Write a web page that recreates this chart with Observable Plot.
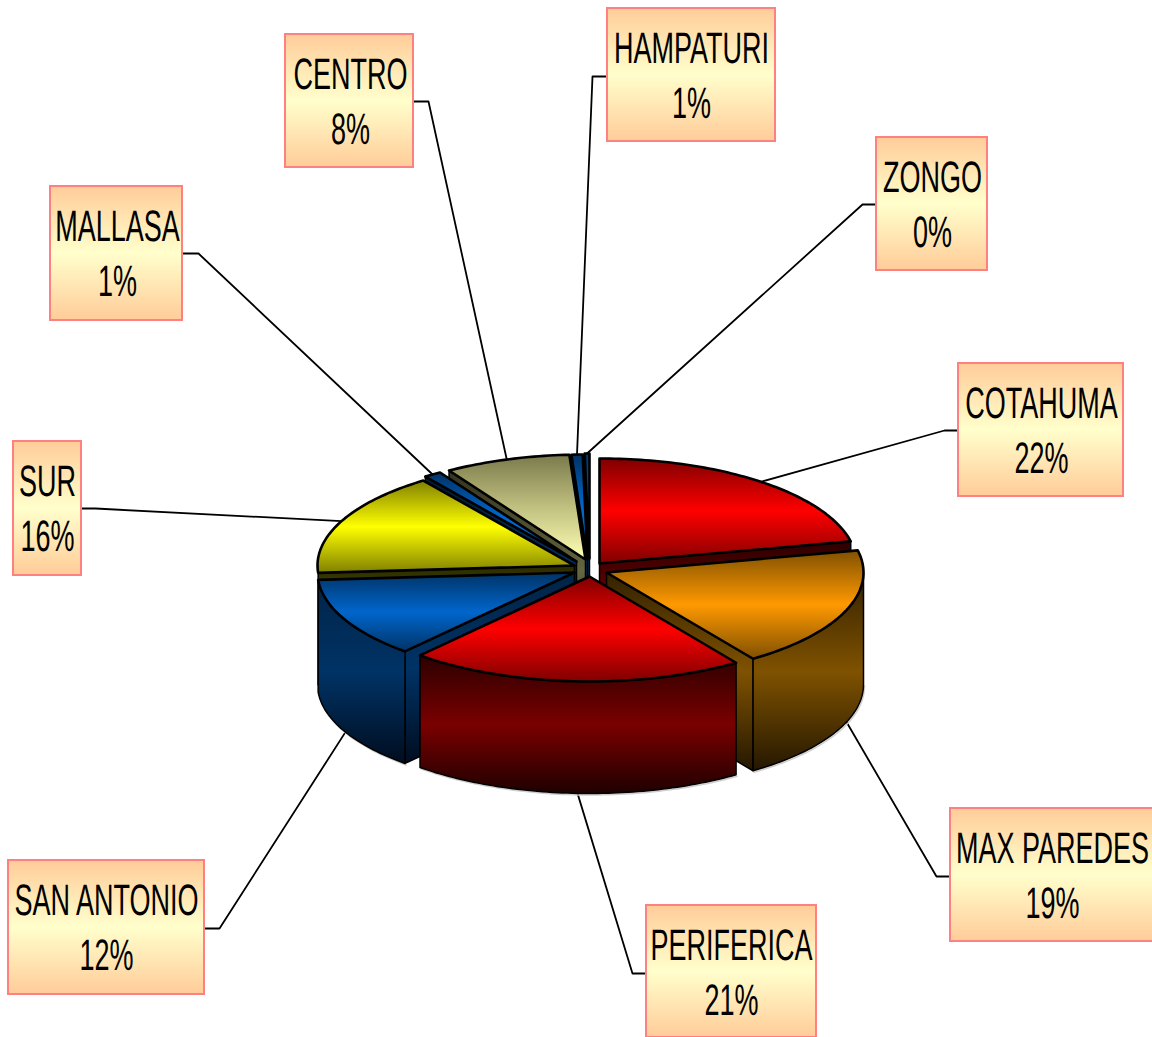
<!DOCTYPE html>
<html>
<head>
<meta charset="utf-8">
<style>html,body{margin:0;padding:0;background:#fff;overflow:hidden}</style>
<script src="https://cdn.jsdelivr.net/npm/d3@7"></script>
<script src="https://cdn.jsdelivr.net/npm/@observablehq/plot@0.6"></script>
</head>
<body>
<script>
// ---- chart data
const districts = ["COTAHUMA","MAX PAREDES","PERIFERICA","SAN ANTONIO","SUR","MALLASA","CENTRO","HAMPATURI","ZONGO"];
const shares    = [21.6, 18.7, 21.1, 12.4, 16.1, 1.1, 7.9, 0.7, 0.3];

// ---- colours: [edge of top, middle of top, edge of top], [wall top, wall middle, wall bottom]
const topColors = [
  ["#800000","#ff0000","#800000"],
  ["#805000","#ff9900","#805000"],
  ["#800000","#ff0000","#800000"],
  ["#003366","#0066cc","#003366"],
  ["#808000","#ffff00","#808000"],
  ["#003366","#0066cc","#0066cc"],
  ["#7a7a4c","#c0c080","#ffffb4"],
  ["#003366","#0066cc","#0066cc"],
  ["#003366","#0066cc","#0066cc"]
];
const wallColors = [
  ["#2c0000","#7a0000","#200000"],
  ["#332100","#7f5200","#241700"],
  ["#2c0000","#7a0000","#1f0000"],
  ["#002448","#003366","#000d1f"],
  ["#2a2a00","#666600","#1a1a00"],
  ["#001a33","#003366","#000d1f"],
  ["#33331f","#666640","#1a1a10"],
  ["#001a33","#003366","#000d1f"],
  ["#001a33","#003366","#000d1f"]
];
const boxFill = ["#ffcc99","#ffffcc","#ffcc99"];

// ---- layout of the pie (plot units = pixels)
const rx = 257, ry = 105, depth = 112;
const apexX = [599,606,589,574,574,576,585,587,589];
const apexY = [563,572,576,572,565,561,559,559,558];
const paintOrder = [8,7,6,5,0,4,3,1,2];

// ---- layout of the labels: box left, right, top, bottom, elbow x, elbow y, text centre
const boxLeft   = [958,950,646,8,13,50,285,607,876];
const boxRight  = [1123,1160,816,204,81,182,413,775,987];
const boxTop    = [363,808,905,860,441,186,34,8,137];
const boxBottom = [496,941,1037,994,575,320,167,141,270];
const elbowX    = [944,936,632,219,95,198,428,592,862];
const elbowY    = [430,876,973,928,508,253,101,76,204];
const textX     = [1041,1052,731,106,47,117,350,691,932];
const labelSize = 27, labelStretch = 1.63;

// ---- geometry derived from the shares
const total = d3.sum(shares);
const cum = [0, ...d3.cumsum(shares)];
const TAU = Math.PI * 2;
const startA = shares.map((_, i) => TAU * cum[i] / total);
const endA = shares.map((_, i) => TAU * cum[i + 1] / total);
const pt = (i, a, dz = 0) => ({x: apexX[i] + rx * Math.sin(a), y: apexY[i] - ry * Math.cos(a) + dz});
const arc = (i, a0, a1, dz = 0) => {
  const n = Math.max(2, Math.ceil((a1 - a0) / 0.02));
  return d3.range(n + 1).map(k => pt(i, a0 + (a1 - a0) * k / n, dz));
};

const closed = (points, fill, strokeWidth) =>
  Plot.line(points, {x: "x", y: "y", fill, stroke: "#000", strokeWidth, curve: "linear-closed", strokeLinejoin: "round"});

const marks = [];

// leader lines
districts.forEach((_, i) => {
  const mid = (startA[i] + endA[i]) / 2;
  const front = mid > Math.PI / 2 && mid < Math.PI * 1.5;
  const end = front ? pt(i, mid - 0.01, depth) : pt(i, mid);
  const boxEdge = elbowX[i] < boxLeft[i] ? boxLeft[i] : boxRight[i];
  marks.push(Plot.line([{x: boxEdge, y: elbowY[i]}, {x: elbowX[i], y: elbowY[i]}, end],
    {x: "x", y: "y", stroke: "#000", strokeWidth: 1.8}));
});

// pie slices, back to front; only walls that face the viewer are drawn
paintOrder.forEach(i => {
  const a0 = startA[i], a1 = endA[i];
  const c = {x: apexX[i], y: apexY[i]};
  const wall = `url(#wall${i})`;
  const radial = a => {
    const p = pt(i, a);
    return [c, p, {x: p.x, y: p.y + depth}, {x: c.x, y: c.y + depth}];
  };
  if (Math.sin(a0) < -1e-6) marks.push(closed(radial(a0), wall, 1.5));
  if (Math.sin(a1) > 1e-6) marks.push(closed(radial(a1), wall, 1.5));
  const w0 = Math.max(a0, Math.PI / 2), w1 = Math.min(a1, Math.PI * 1.5);
  if (w1 - w0 > 0.15) {
    marks.push(Plot.line(arc(i, w0, w1, depth), {x: "x", y: "y", stroke: "#cfcfcf", strokeWidth: 1.5, dx: 1, dy: 1.5}));
    marks.push(closed([...arc(i, w0, w1), ...arc(i, w0, w1, depth).reverse()], wall, 1.5));
  }
  marks.push(closed([c, ...arc(i, a0, a1)], `url(#top${i})`, 2.6));
});

// label boxes and text
const labels = districts.map((name, i) => ({
  name, pct: `${Math.round(shares[i])}%`,
  x1: boxLeft[i], x2: boxRight[i], y1: boxTop[i], y2: boxBottom[i],
  tx: textX[i], ny: boxTop[i] + 54, py: boxTop[i] + 109
}));
marks.push(Plot.rect(labels, {x1: "x1", x2: "x2", y1: "y1", y2: "y2", fill: "url(#box)", stroke: "#ff8080", strokeWidth: 2}));
const textOpts = {x: "tx", fontSize: labelSize, fontFamily: "Liberation Sans", fill: "#000", lineAnchor: "bottom", textAnchor: "middle"};
marks.push(Plot.text(labels, {...textOpts, y: "ny", text: "name"}));
marks.push(Plot.text(labels, {...textOpts, y: "py", text: "pct"}));

const svg = Plot.plot({
  width: 1152, height: 1037,
  marginTop: 0, marginRight: 0, marginBottom: 0, marginLeft: 0,
  x: {domain: [0, 1152], range: [0, 1152], axis: null},
  y: {domain: [0, 1037], range: [0, 1037], axis: null},
  style: {background: "#fff"},
  marks
});
document.body.append(svg);

// gradients
const defs = d3.select(svg).insert("defs", ":first-child");
const gradient = (id, colors) => {
  const g = defs.append("linearGradient").attr("id", id).attr("x1", 0).attr("y1", 0).attr("x2", 0).attr("y2", 1);
  colors.forEach((c, k) => g.append("stop").attr("offset", k / (colors.length - 1)).attr("stop-color", c));
};
topColors.forEach((c, i) => gradient(`top${i}`, c));
wallColors.forEach((c, i) => gradient(`wall${i}`, c));
gradient("box", boxFill);

// tall, narrow lettering as in the original
d3.select(svg).selectAll("text").each(function () {
  const t = this.getAttribute("transform") || "";
  this.setAttribute("transform", `${t} scale(1,${labelStretch})`);
  this.setAttribute("text-rendering", "geometricPrecision");
});
</script>
</body>
</html>
